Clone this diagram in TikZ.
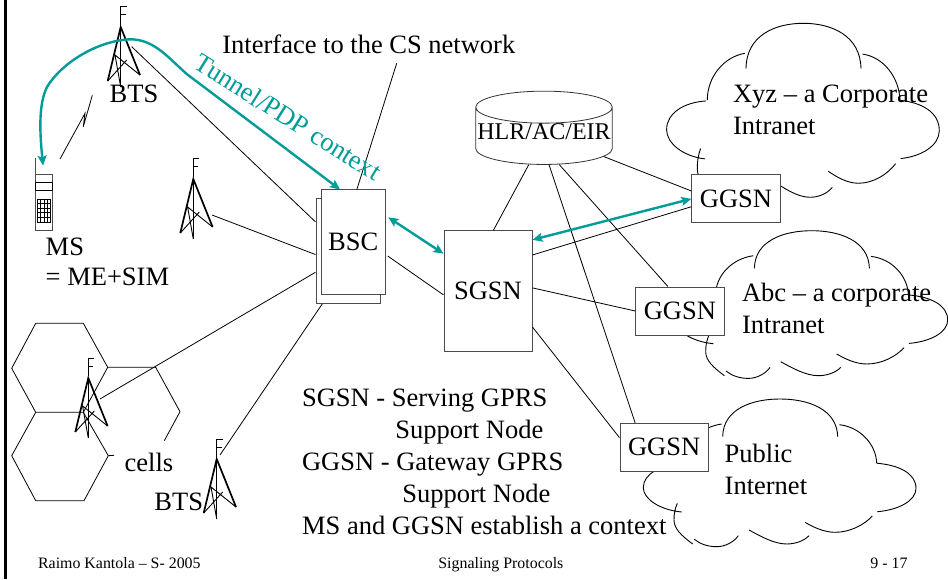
\documentclass[tikz,border=0pt]{standalone}
\usepackage{fontspec}
\setmainfont{Liberation Serif}
\usepackage{xcolor}
\usepackage{tikz}
\usetikzlibrary{arrows.meta, shapes.geometric}
\definecolor{tunnelteal}{RGB}{0,156,153}

\newcommand{\bigtxt}{\fontsize{26.5}{30}\selectfont}
\newcommand{\dbtxt}{\fontsize{24}{28}\selectfont}
\newcommand{\foottxt}{\fontsize{15.9}{18}\selectfont}

\tikzset{
  tower/.pic={
    \draw[line width=1pt] (0,18) -- (0,0) -- (6,0) (0,8) -- (5,8);
    \draw[line width=1.7pt] (-13,74) -- (0,20) -- (19.3,68);
    \draw[line width=1.3pt] (0,20) -- (0,80);
    \draw[line width=.9pt] (19.3,68) -- (-5.7,48) -- (0,80) (-13,74) -- (6,53);
  },
  cloudshape/.pic={
    \draw[line width=.9pt]
    (-57.3,37.7) .. controls (-57,10) and (-28,0) .. (0,0) .. controls (28,0) and (57,10) .. (57.7,37.7)
    (59.3,25.7) .. controls (80,28) and (96,45) .. (96.7,64.3)
    (97.3,64.3) .. controls (118,66) and (136,74) .. (136,89.3) .. controls (136,102) and (118,111) .. (97.3,112.7)
    (92.3,117) .. controls (84,126) and (70,133.3) .. (55,133.3) .. controls (44,133.3) and (33,128) .. (25,123.3)
    (29,136.7) .. controls (24,142) and (15,145) .. (6.7,145) .. controls (-6,145) and (-20,137) .. (-31,131)
    (-41.7,136.7) .. controls (-46,143) and (-55,147.7) .. (-63.3,147.7) .. controls (-72,147.7) and (-80,145) .. (-85.7,140.3)
    (-87.3,145) .. controls (-98,137) and (-106,130) .. (-106,121) .. controls (-106,114) and (-105,110) .. (-102.7,104.3)
    (-97.3,64.7) .. controls (-120,66) and (-136.7,75) .. (-136.7,88.7) .. controls (-136.7,100) and (-120,111) .. (-98.3,113)
    (-58.3,25) .. controls (-80,28) and (-96,45) .. (-96,64);
  }
}

\begin{document}
\begin{tikzpicture}[x=1pt,y=-1pt,line width=.8pt,>={Stealth[length=10pt,width=9pt,inset=2pt]}]
  \tikzstyle{box}=[draw=black!70,fill=white,line width=1pt,inner sep=0pt,font=\bigtxt]
  \tikzstyle{txt}=[anchor=base west,inner sep=0pt,font=\bigtxt]
  \tikzstyle{foot}=[anchor=base west,inner sep=0pt,font=\foottxt]
  \tikzstyle{tunnel}=[tunnelteal,line width=2.4pt,<->]

  \useasboundingbox (0,0) rectangle (948,580);
  \draw[line width=2.6pt] (5.3,0) -- (5.3,579);

  % cells
  \draw (35.7,412.3) -- (11.7,368.3) -- (35.7,323.3) -- (83.3,323.3) -- (107.7,367.3) -- (83.3,412.3) -- cycle;
  \draw (35.7,412.3) -- (11.7,455.7) -- (35.7,500.7) -- (84,500.7) -- (108.3,455.7) -- (83.3,412.3);
  \draw (108.3,455.7) -- (114,455.3);
  \draw (107.7,367.3) -- (155.7,367.3) -- (180,411.7) -- (164.3,440.7);

  \pic at (803.3,23.3) [yscale=1.2] {cloudshape};
  \pic at (811.7,230.7) {cloudshape};
  \pic at (780,399) {cloudshape};

  \pic at (120.7,7) {tower};
  \pic at (193.3,159) {tower};
  \pic at (88.3,358) {tower};
  \pic at (216.7,439) {tower};

  \coordinate (bts_1) at (131.7,46.7);
  \coordinate (bts_2) at (212,215);
  \coordinate (bts_3) at (100,399);
  \coordinate (bts_4) at (220,455);
  \coordinate (cs_end) at (396.7,63.3);
  \coordinate (bolt_a) at (60,159);
  \coordinate (bolt_b) at (92.3,95.3);

  \node[box,minimum width=64pt,minimum height=104.3pt]   (bsc_2)  at (348,251.15)   {};
  \path (bts_1) edge (bsc_2.138.4)
        (bts_2) edge (bsc_2.186.9)
        (bts_3) edge (bsc_2.213.1)
        (bts_4) edge (bsc_2.244.7);
  \node[box,minimum width=64.3pt,minimum height=104.3pt] (bsc_1)  at (353.15,242.15) {BSC};
  \node[box,minimum width=88pt,minimum height=120pt]     (sgsn)   at (488,291)       {SGSN};
  \node[box,minimum width=88.3pt,minimum height=47.7pt]  (ggsn_1) at (736,198.85)    {GGSN};
  \node[box,minimum width=88.3pt,minimum height=48pt]    (ggsn_2) at (679.85,311)    {GGSN};
  \node[box,minimum width=88.3pt,minimum height=47.7pt]  (ggsn_3) at (664.15,447.15) {GGSN};
  \node[cylinder,shape border rotate=90,aspect=.24,draw=black!80,fill=white,inner sep=0pt,
        minimum width=136.6pt,minimum height=64.3pt,font=\dbtxt] (hlr) at (544,136) {\raisebox{9pt}{HLR/AC/EIR}};

  \path (cs_end) edge (bsc_1.86.9)
        (bsc_1.339.8) edge[shorten <=2.4pt] (sgsn.185.2)
        (hlr.242) edge (sgsn.85.9)
        (hlr.280.4) edge (ggsn_3.140)
        (hlr.298.6) edge (ggsn_2.116.9)
        (hlr.341.8) edge (ggsn_1.170)
        (sgsn.39.3) edge (ggsn_1.190.8)
        (sgsn.4.8) edge (ggsn_2.west)
        (sgsn.-39.5) edge (ggsn_3.168.7);

  % phone
  \node[draw=black!70,line width=1pt,inner sep=0pt,minimum width=16.6pt,minimum height=56pt] (ms) at (44,203) {};
  \draw[black!70,line width=1pt] (ms.north west) -- ++(0,-16);
  \draw[line width=1pt] (ms.west |- 0,182.7) rectangle (ms.east |- 0,191);
  \foreach \i in {0,...,4} \draw[line width=.6pt] (37.3+\i*3.35,199) -- (37.3+\i*3.35,222);
  \foreach \i in {0,...,5} \draw[line width=.6pt] (37.3,199+\i*4.6) -- (50.7,199+\i*4.6);
  \draw (bolt_a) -- (85,113.3) -- (83.3,126.7) -- (bolt_b);

  % teal arrows
  \draw[tunnel,shorten <=9pt] (ms.north) .. controls (40,135) and (38,105) .. (47,87)
    .. controls (60,65) and (95,41) .. (130,39.3) .. controls (155,39) and (170,60) .. (188,75) -- (bsc_1.104.9);
  \path[tunnel] (bsc_1.39.4) edge[shorten <=3pt] (sgsn.140.7)
                (sgsn.49.6) edge (ggsn_1.west);

  \node[tunnelteal,font=\bigtxt,rotate=-32,inner sep=0pt] (tunnel_txt) at (288,117) {Tunnel/PDP context};

  \node[txt] (cs_txt)    at (222,53.3)  {Interface to the CS network};
  \node[txt] (bts_txt)   at (109.3,103) {BTS};
  \node[txt] (ms_txt)    at (45.3,256)  {MS};
  \node[txt] (me_txt)    at (45.3,285)  {= ME+SIM};
  \node[txt] (cells_txt) at (124.3,471) {cells};
  \node[txt] (btsb_txt)  at (154,510)   {BTS};
  \node[txt] (sg_txt)    at (301.7,406) {SGSN - Serving GPRS};
  \node[txt] (sn_txt)    at (395,438)   {Support Node};
  \node[txt] (gg_txt)    at (301.7,470) {GGSN - Gateway GPRS};
  \node[txt] (gn_txt)    at (402,502)   {Support Node};
  \node[txt] (ctx_txt)   at (301.7,534) {MS and GGSN establish a context};
  \node[txt] (xyz_txt)   at (732.7,102.7) {Xyz -- a Corporate};
  \node[txt] (xyzb_txt)  at (732.7,135)   {Intranet};
  \node[txt] (abc_txt)   at (741.7,301.7) {Abc -- a corporate};
  \node[txt] (abcb_txt)  at (741.7,333.3) {Intranet};
  \node[txt] (pub_txt)   at (724.3,462.3) {Public};
  \node[txt] (pubb_txt)  at (724.3,494)   {Internet};

  \node[foot] (foot_a) at (37.7,568) {Raimo Kantola -- S- 2005};
  \node[foot] (foot_b) at (438,568)  {Signaling Protocols};
  \node[foot] (foot_c) at (870,568)  {9 - 17};
\end{tikzpicture}
\end{document}
